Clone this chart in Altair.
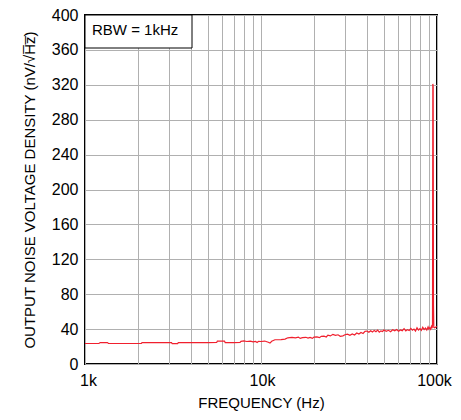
import altair as alt
import pandas as pd

freq = [1000, 1200, 1220, 1340, 1360, 2090, 2110, 3100, 3130, 3360, 3390, 4000, 4500, 5000,
        5600, 5650, 6200, 6260, 7000, 7600, 7700, 8000, 8300, 8700, 9000, 9300, 9500, 9700,
        10000, 10500, 11000, 11250, 11500, 12000, 13000, 13700, 14200, 15000, 15700, 16300,
        16700, 17200, 18000, 18500, 19000, 19600, 20000, 20800, 21500, 22000, 22800, 23500,
        24000, 24800, 25600, 26500, 27400, 28200, 29200, 30000, 31000, 32000, 33000, 34000,
        35000, 36000, 37000, 38000, 39000, 40000, 41000, 42000, 43000, 44000, 45000, 46000,
        47000, 48000, 49000, 50000, 51500, 53000, 54500, 56000, 57500, 59000, 60500, 62000,
        63500, 65000, 66500, 68000, 69500, 71000, 72500, 74000, 75500, 77000, 78500, 80000,
        81500, 83000, 84500, 86000, 87500, 89000, 90000, 91000, 92000, 93000, 93800, 94300,
        94700, 95100, 95500, 95900, 97000, 98500, 100000]
noise = [23.5, 23.5, 24.5, 24.5, 23.5, 23.5, 24.5, 24.5, 23.3, 23.3, 24.5, 24.5, 24.6, 24.5,
         24.7, 26.3, 26.3, 24.6, 24.6, 24.7, 26.0, 26.5, 25.8, 26.2, 25.3, 26.0, 24.6, 26.0,
         25.8, 26.3, 25.0, 24.0, 26.0, 27.8, 28.0, 28.5, 30.0, 30.5, 30.0, 30.8,
         29.3, 30.2, 30.6, 29.8, 30.5, 29.4, 30.8, 31.0, 30.2, 31.7, 32.0, 31.0,
         33.0, 32.2, 34.0, 32.8, 33.5, 31.8, 32.3, 33.5, 34.2, 33.0, 34.5, 33.2,
         35.5, 34.3, 36.2, 35.0, 37.5, 37.8, 36.4, 38.2, 36.8, 38.5, 37.0, 38.8,
         36.5, 38.0, 37.2, 39.0, 37.5, 38.6, 37.0, 39.2, 38.0, 39.6, 37.6, 39.0,
         38.2, 40.5, 38.0, 39.4, 38.4, 40.8, 38.8, 40.0, 37.8, 41.5, 39.0, 40.6,
         38.6, 42.0, 39.5, 41.2, 39.0, 42.5, 40.0, 41.6, 39.8, 43.0, 41.0, 44.5,
         321.0, 318.0, 67.0, 42.0, 41.5, 42.5, 43.0]

x_grid = [1000, 2000, 3000, 4000, 5000, 6000, 7000, 8000, 9000,
          10000, 20000, 30000, 40000, 50000, 60000, 70000, 80000, 90000, 100000]
y_ticks = [0, 40, 80, 120, 160, 200, 240, 280, 320, 360, 400]
note = ["RBW = 1kHz"]

FONT = "Liberation Sans"
GRID = "#b0b0b0"

df = pd.DataFrame({"f": freq, "v": noise})

line = alt.Chart(df).mark_line(color="#f0202e", strokeWidth=1.2, clip=True).encode(
    x=alt.X("f:Q",
            scale=alt.Scale(type="log", domain=[1000, 100000], nice=False),
            axis=alt.Axis(values=x_grid,
                          labelExpr="datum.value == 1000 ? '1k' : datum.value == 10000 ? '10k' : datum.value == 100000 ? '100k' : ''",
                          labelOverlap=False, labelFlush=False,
                          labelOffset={"condition": [{"test": "datum.value == 100000", "value": -3},
                                                     {"test": "datum.value == 1000", "value": 3}],
                                       "value": 1},
                          title="FREQUENCY (Hz)", grid=True, gridColor=GRID, gridWidth=1,
                          ticks=False, domain=False, labelPadding=8, titlePadding=7)),
    y=alt.Y("v:Q",
            scale=alt.Scale(domain=[0, 400], nice=False),
            axis=alt.Axis(values=y_ticks, title="OUTPUT NOISE VOLTAGE DENSITY (nV/\u221aH\u0305z\u0305)",
                          grid=True, gridColor=GRID, gridWidth=1,
                          ticks=False, domain=False, labelPadding=7, titlePadding=14)),
)

box = alt.Chart(pd.DataFrame({"t": note})).mark_rect(
    fill="white", stroke="black", strokeWidth=1).encode(
    x=alt.value(0), x2=alt.value(107), y=alt.value(0), y2=alt.value(33))

txt = alt.Chart(pd.DataFrame({"t": note})).mark_text(
    align="left", baseline="middle", fontSize=15, font=FONT, color="black").encode(
    x=alt.value(7), y=alt.value(15), text="t:N")

chart = alt.layer(line, box, txt).properties(
    width=352, height=349,
    autosize=alt.AutoSizeParams(type="none"),
    padding={"left": 77, "top": 7, "right": 16, "bottom": 48},
    background="white",
).configure_view(stroke="black", strokeWidth=2).configure_axis(
    labelFont=FONT, titleFont=FONT, labelFontSize=16, titleFontSize=15,
    labelColor="black", titleColor="black", titleFontWeight="normal",
)

chart.save("out.html", embed_options={"renderer": "svg", "actions": False})
